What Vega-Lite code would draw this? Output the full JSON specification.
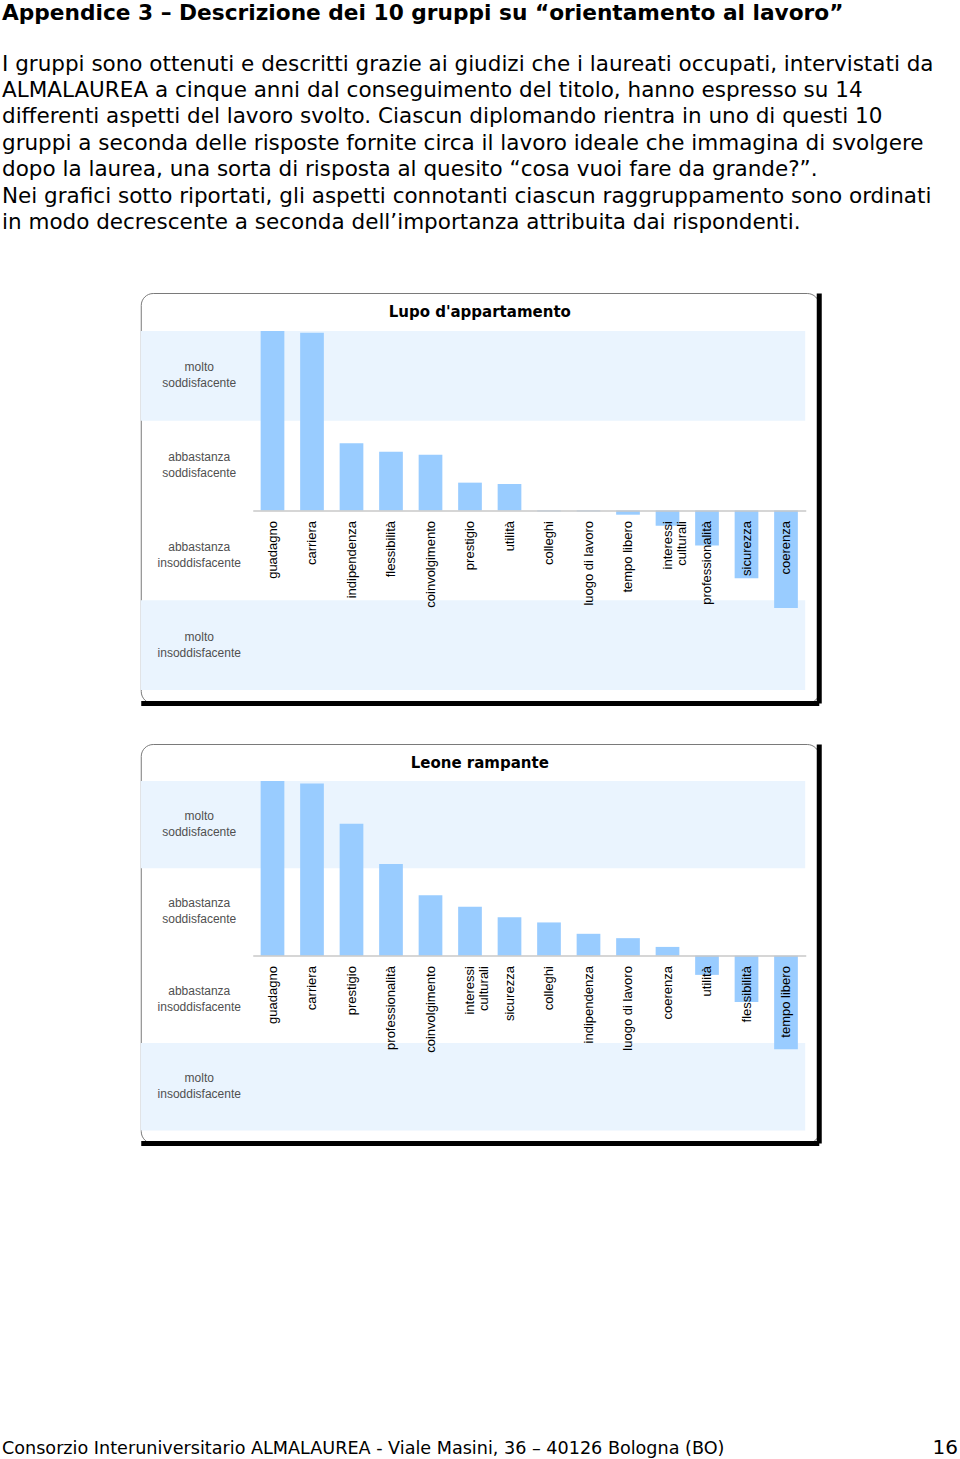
{
  "$schema": "https://vega.github.io/schema/vega-lite/v6.json",
  "padding": {"left": 2, "top": 2, "right": 0, "bottom": 0},
  "background": "white",
  "title": {
    "text": "Appendice 3 – Descrizione dei 10 gruppi su “orientamento al lavoro”",
    "subtitle": [
      "I gruppi sono ottenuti e descritti grazie ai giudizi che i laureati occupati, intervistati da",
      "ALMALAUREA a cinque anni dal conseguimento del titolo, hanno espresso su 14",
      "differenti aspetti del lavoro svolto. Ciascun diplomando rientra in uno di questi 10",
      "gruppi a seconda delle risposte fornite circa il lavoro ideale che immagina di svolgere",
      "dopo la laurea, una sorta di risposta al quesito “cosa vuoi fare da grande?”.",
      "Nei grafici sotto riportati, gli aspetti connotanti ciascun raggruppamento sono ordinati",
      "in modo decrescente a seconda dell’importanza attribuita dai rispondenti."
    ],
    "anchor": "start",
    "font": "DejaVu Sans",
    "fontSize": 21.7,
    "fontWeight": "bold",
    "color": "#000000",
    "subtitleFont": "DejaVu Sans",
    "subtitleFontSize": 21.5,
    "subtitleColor": "#000000",
    "subtitleLineHeight": 26.4,
    "subtitlePadding": 29,
    "offset": 59
  },
  "datasets": {
    "fasce": [{"lo": 1, "hi": 2}, {"lo": -2, "hi": -1}],
    "lupo": [
      {"aspetto": "guadagno", "valore": 2.0},
      {"aspetto": "carriera", "valore": 1.98},
      {"aspetto": "indipendenza", "valore": 0.75},
      {"aspetto": "flessibilità", "valore": 0.655},
      {"aspetto": "coinvolgimento", "valore": 0.62},
      {"aspetto": "prestigio", "valore": 0.31},
      {"aspetto": "utilità", "valore": 0.295},
      {"aspetto": "colleghi", "valore": -0.01},
      {"aspetto": "luogo di lavoro", "valore": -0.01},
      {"aspetto": "tempo libero", "valore": -0.047},
      {"aspetto": "interessi culturali", "valore": -0.17},
      {"aspetto": "professionalità", "valore": -0.39},
      {"aspetto": "sicurezza", "valore": -0.755},
      {"aspetto": "coerenza", "valore": -1.085}
    ],
    "leone": [
      {"aspetto": "guadagno", "valore": 2.0},
      {"aspetto": "carriera", "valore": 1.97},
      {"aspetto": "prestigio", "valore": 1.51},
      {"aspetto": "professionalità", "valore": 1.05},
      {"aspetto": "coinvolgimento", "valore": 0.69},
      {"aspetto": "interessi culturali", "valore": 0.56},
      {"aspetto": "sicurezza", "valore": 0.44},
      {"aspetto": "colleghi", "valore": 0.38},
      {"aspetto": "indipendenza", "valore": 0.25},
      {"aspetto": "luogo di lavoro", "valore": 0.2},
      {"aspetto": "coerenza", "valore": 0.1},
      {"aspetto": "utilità", "valore": -0.22},
      {"aspetto": "flessibilità", "valore": -0.53},
      {"aspetto": "tempo libero", "valore": -1.07}
    ],
    "piede": [{"t": "Consorzio Interuniversitario ALMALAUREA - Viale Masini, 36 – 40126 Bologna (BO)"}],
    "pagina": [{"t": "16"}]
  },
  "spacing": 39,
  "center": true,
  "vconcat": [
    {
      "width": 678,
      "height": 410,
      "title": {"text": "Lupo d'appartamento", "font": "DejaVu Sans", "fontSize": 15, "fontWeight": "bold", "color": "#000000", "anchor": "middle", "offset": -27},
      "view": {"fill": "white", "stroke": "#7a7a7a", "strokeWidth": 1, "cornerRadius": 12},
      "layer": [
        {
          "data": {"name": "fasce"},
          "mark": {"type": "rect", "fill": "#eaf4fe"},
          "encoding": {
            "x": {"datum": 0, "type": "quantitative", "scale": {"domain": [0, 1], "nice": false, "zero": false},
                  "axis": {"orient": "bottom", "domain": true, "domainColor": "#000000", "domainWidth": 5, "labels": false, "ticks": false, "grid": false, "title": null, "zindex": 1}},
            "x2": {"datum": 0.98},
            "y": {"field": "lo", "type": "quantitative", "scale": {"domain": [-2.144, 2.422], "nice": false, "zero": false},
                  "axis": {"orient": "right", "domain": true, "domainColor": "#000000", "domainWidth": 5, "labels": false, "ticks": false, "grid": false, "title": null, "zindex": 1}},
            "y2": {"field": "hi"}
          }
        },
        {
          "data": {"name": "lupo"},
          "mark": {"type": "bar", "fill": "#99ccff"},
          "encoding": {
            "x": {"field": "aspetto", "type": "nominal", "sort": null,
                  "scale": {"range": [112, 665], "paddingInner": 0.4, "paddingOuter": 0.2},
                  "axis": {"orient": "bottom", "offset": -192.5, "title": null, "labelAngle": -90, "labelAlign": "right", "labelBaseline": "middle", "labelPadding": 10, "ticks": false, "tickSize": 0, "domain": true, "domainColor": "#c8c8c8", "domainWidth": 1.5, "grid": false, "labelFont": "Liberation Sans", "labelFontSize": 13, "labelColor": "#000000", "labelOverlap": false, "labelLineHeight": 14, "labelExpr": "datum.label == 'interessi culturali' ? ['interessi', 'culturali'] : datum.label", "zindex": 1}},
            "y": {"field": "valore", "type": "quantitative", "scale": {"domain": [-2.144, 2.422], "nice": false, "zero": false},
                  "axis": {"orient": "left", "values": [1.5, 0.5, -0.5, -1.5], "labelExpr": "datum.value == 1.5 ? ['molto', 'soddisfacente'] : datum.value == 0.5 ? ['abbastanza', 'soddisfacente'] : datum.value == -0.5 ? ['abbastanza', 'insoddisfacente'] : ['molto', 'insoddisfacente']", "labelAlign": "center", "labelBaseline": "middle", "labelPadding": -58, "labelOffset": -9, "ticks": false, "tickSize": 0, "domain": false, "grid": false, "title": null, "labelFont": "Liberation Sans", "labelFontSize": 12, "labelColor": "#505050", "labelLineHeight": 16, "labelOverlap": false, "zindex": 1}}
          }
        }
      ],
      "resolve": {"scale": {"x": "independent"}, "axis": {"x": "independent", "y": "independent"}}
    },
    {
      "width": 678,
      "height": 399,
      "title": {"text": "Leone rampante", "font": "DejaVu Sans", "fontSize": 15, "fontWeight": "bold", "color": "#000000", "anchor": "middle", "offset": -27},
      "view": {"fill": "white", "stroke": "#7a7a7a", "strokeWidth": 1, "cornerRadius": 12},
      "layer": [
        {
          "data": {"name": "fasce"},
          "mark": {"type": "rect", "fill": "#eaf4fe"},
          "encoding": {
            "x": {"datum": 0, "type": "quantitative", "scale": {"domain": [0, 1], "nice": false, "zero": false},
                  "axis": {"orient": "bottom", "domain": true, "domainColor": "#000000", "domainWidth": 5, "labels": false, "ticks": false, "grid": false, "title": null, "zindex": 1}},
            "x2": {"datum": 0.98},
            "y": {"field": "lo", "type": "quantitative", "scale": {"domain": [-2.144, 2.422], "nice": false, "zero": false},
                  "axis": {"orient": "right", "domain": true, "domainColor": "#000000", "domainWidth": 5, "labels": false, "ticks": false, "grid": false, "title": null, "zindex": 1}},
            "y2": {"field": "hi"}
          }
        },
        {
          "data": {"name": "leone"},
          "mark": {"type": "bar", "fill": "#99ccff"},
          "encoding": {
            "x": {"field": "aspetto", "type": "nominal", "sort": null,
                  "scale": {"range": [112, 665], "paddingInner": 0.4, "paddingOuter": 0.2},
                  "axis": {"orient": "bottom", "offset": -187.4, "title": null, "labelAngle": -90, "labelAlign": "right", "labelBaseline": "middle", "labelPadding": 10, "ticks": false, "tickSize": 0, "domain": true, "domainColor": "#c8c8c8", "domainWidth": 1.5, "grid": false, "labelFont": "Liberation Sans", "labelFontSize": 13, "labelColor": "#000000", "labelOverlap": false, "labelLineHeight": 14, "labelExpr": "datum.label == 'interessi culturali' ? ['interessi', 'culturali'] : datum.label", "zindex": 1}},
            "y": {"field": "valore", "type": "quantitative", "scale": {"domain": [-2.144, 2.422], "nice": false, "zero": false},
                  "axis": {"orient": "left", "values": [1.5, 0.5, -0.5, -1.5], "labelExpr": "datum.value == 1.5 ? ['molto', 'soddisfacente'] : datum.value == 0.5 ? ['abbastanza', 'soddisfacente'] : datum.value == -0.5 ? ['abbastanza', 'insoddisfacente'] : ['molto', 'insoddisfacente']", "labelAlign": "center", "labelBaseline": "middle", "labelPadding": -58, "labelOffset": -9, "ticks": false, "tickSize": 0, "domain": false, "grid": false, "title": null, "labelFont": "Liberation Sans", "labelFontSize": 12, "labelColor": "#505050", "labelLineHeight": 16, "labelOverlap": false, "zindex": 1}}
          }
        }
      ],
      "resolve": {"scale": {"x": "independent"}, "axis": {"x": "independent", "y": "independent"}}
    },
    {
      "width": 956,
      "height": 271,
      "layer": [
        {
          "data": {"name": "piede"},
          "mark": {"type": "text", "align": "left", "baseline": "alphabetic", "font": "DejaVu Sans", "fontSize": 17.6, "color": "#000000"},
          "encoding": {
            "text": {"field": "t"},
            "x": {"datum": 0, "type": "quantitative", "scale": {"domain": [0, 1], "nice": false}, "axis": null},
            "y": {"datum": 0, "type": "quantitative", "scale": {"domain": [0, 1], "nice": false}, "axis": null}
          }
        },
        {
          "data": {"name": "pagina"},
          "mark": {"type": "text", "align": "right", "baseline": "alphabetic", "font": "DejaVu Sans", "fontSize": 20, "color": "#000000"},
          "encoding": {
            "text": {"field": "t"},
            "x": {"datum": 1, "type": "quantitative", "scale": {"domain": [0, 1], "nice": false}, "axis": null},
            "y": {"datum": 0, "type": "quantitative", "scale": {"domain": [0, 1], "nice": false}, "axis": null}
          }
        }
      ]
    }
  ],
  "config": {"view": {"stroke": null}, "axis": {"grid": false}}
}
